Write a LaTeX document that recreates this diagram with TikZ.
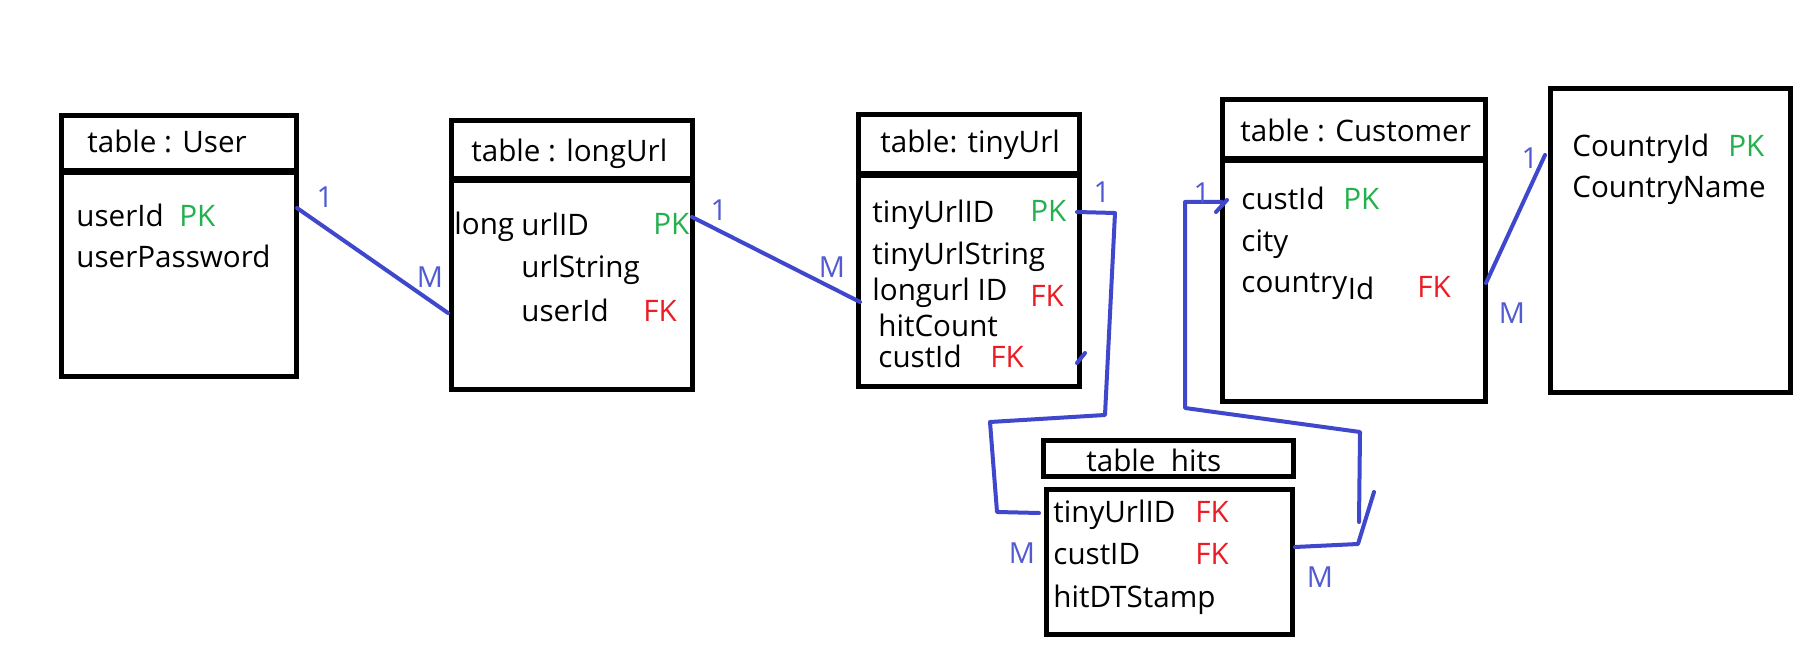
\documentclass[tikz,border=0pt]{standalone}
\usepackage{fontspec}
\setmainfont{Open Sans}
\usetikzlibrary{fit}
\definecolor{ink}{HTML}{3F48CC}
\definecolor{pkgreen}{HTML}{22B14C}
\definecolor{fkred}{HTML}{ED1C24}
\tikzset{
  tbl/.style={draw=black, line width=2.5pt, inner sep=0pt, rectangle},
  txt/.style={anchor=base west, inner sep=0pt, font=\fontsize{14.8}{17}\selectfont, text=black},
  pk/.style={txt, text=pkgreen},
  fk/.style={txt, text=fkred},
  card/.style={anchor=center, inner sep=0pt, font=\fontsize{14.5}{16}\selectfont, text=ink!90},
  rel/.style={draw=ink, line width=2pt, line join=round, line cap=round},
}
\begin{document}
\begin{tikzpicture}[x=0.5pt,y=-0.5pt]
\useasboundingbox[fill=white] (0,0) rectangle (1814,667);

% ---- table User
\node[tbl, fit={(61,116) (296,171)}] (userH) {};
\node[tbl, fit={(61,173) (296,377)}] (userB) {};
\node[txt] (userT) at (87,153) {table : User};
\node[txt] (userF1) at (76,227) {userId};
\node[pk]  (userF1k) at (179,227) {PK};
\node[txt] (userF2) at (76,268) {userPassword};

% ---- table longUrl
\node[tbl, fit={(451,121) (692,179)}] (longH) {};
\node[tbl, fit={(451,181) (692,390)}] (longB) {};
\node[txt] (longT) at (471,162) {table : longUrl};
\node[txt] (longF0) at (454,235) {long};
\node[txt] (longF1) at (521,236) {urlID};
\node[pk]  (longF1k) at (653,235) {PK};
\node[txt] (longF2) at (521,278) {urlString};
\node[txt] (longF3) at (521,322) {userId};
\node[fk]  (longF3k) at (643,322) {FK};

% ---- table tinyUrl
\node[tbl, fit={(858,115) (1079,174)}] (tinyH) {};
\node[tbl, fit={(858,176) (1079,387)}] (tinyB) {};
\node[txt] (tinyT) at (880,153) {table: tinyUrl};
\node[txt] (tinyF1) at (872,223) {tinyUrlID};
\node[pk]  (tinyF1k) at (1030,222) {PK};
\node[txt] (tinyF2) at (872,265) {tinyUrlString};
\node[txt] (tinyF3) at (872,301) {longurl ID};
\node[fk]  (tinyF3k) at (1030,307) {FK};
\node[txt] (tinyF4) at (878,337) {hitCount};
\node[txt] (tinyF5) at (878,368) {custId};
\node[fk]  (tinyF5k) at (990,368) {FK};

% ---- table Customer
\node[tbl, fit={(1222,100) (1485,159)}] (custH) {};
\node[tbl, fit={(1222,161) (1485,402)}] (custB) {};
\node[txt] (custT) at (1240,142) {table : Customer};
\node[txt] (custF1) at (1241,210) {custId};
\node[pk]  (custF1k) at (1343,210) {PK};
\node[txt] (custF2) at (1241,252) {city};
\node[txt] (custF3) at (1241,293) {country};
\node[txt] (custF3b) at ([yshift=-3.5pt]custF3.base east) {Id};
\node[fk]  (custF3k) at (1417,298) {FK};

% ---- table Country
\node[tbl, fit={(1550,89) (1790,393)}] (ctryB) {};
\node[txt] (ctryF1) at (1572,157) {CountryId};
\node[pk]  (ctryF1k) at (1728,157) {PK};
\node[txt] (ctryF2) at (1572,198) {CountryName};

% ---- table hits
\node[tbl, fit={(1043,441) (1293,477)}] (hitsH) {};
\node[tbl, fit={(1046,490) (1292,634)}] (hitsB) {};
\node[txt] (hitsT) at (1086,472) {table\ \ hits};
\node[txt] (hitsF1) at (1053,523) {tinyUrlID};
\node[fk]  (hitsF1k) at (1195,523) {FK};
\node[txt] (hitsF2) at (1053,565) {custID};
\node[fk]  (hitsF2k) at (1195,565) {FK};
\node[txt] (hitsF3) at (1053,607) {hitDTStamp};

% ---- connector end points
\coordinate (uA) at (297,208);
\coordinate (lA) at (448,313);
\coordinate (lB) at (692,217);
\coordinate (tA) at (860,302);
\coordinate (tB) at (1077,212);
\coordinate (hA) at (1039,513);
\coordinate (hB) at (1295,547);
\coordinate (cA) at (1222,202);
\coordinate (cB) at (1486,283);
\coordinate (kA) at (1545,155);
\coordinate (tC) at (1077,363);

% ---- connectors
\draw[rel] (uA) -- (lA);
\draw[rel] (lB) -- (tA);
\draw[rel] (tB) -- (1115,213) -- (1105,415) -- (990,422) -- (997,512) -- (hA);
\draw[rel] (tC) -- ++(8,-10);
\draw[rel] (hB) -- (1358,544) -- (1374,492);
\draw[rel] (1359,522) -- (1360,432) -- (1185,408) -- (1185,202) -- (cA);
\draw[rel] (1216,212) -- (1227,200);
\draw[rel] (cB) -- (kA);

% ---- cardinalities
\node[card] (m1a) at (325,197) {1};
\node[card] (m1b) at (430,277) {M};
\node[card] (m2a) at (719,210) {1};
\node[card] (m2b) at (832,267) {M};
\node[card] (m3a) at (1102,192) {1};
\node[card] (m3b) at (1022,553) {M};
\node[card] (m4a) at (1202,193) {1};
\node[card] (m4b) at (1320,577) {M};
\node[card] (m5a) at (1530,158) {1};
\node[card] (m5b) at (1512,313) {M};
\end{tikzpicture}
\end{document}
